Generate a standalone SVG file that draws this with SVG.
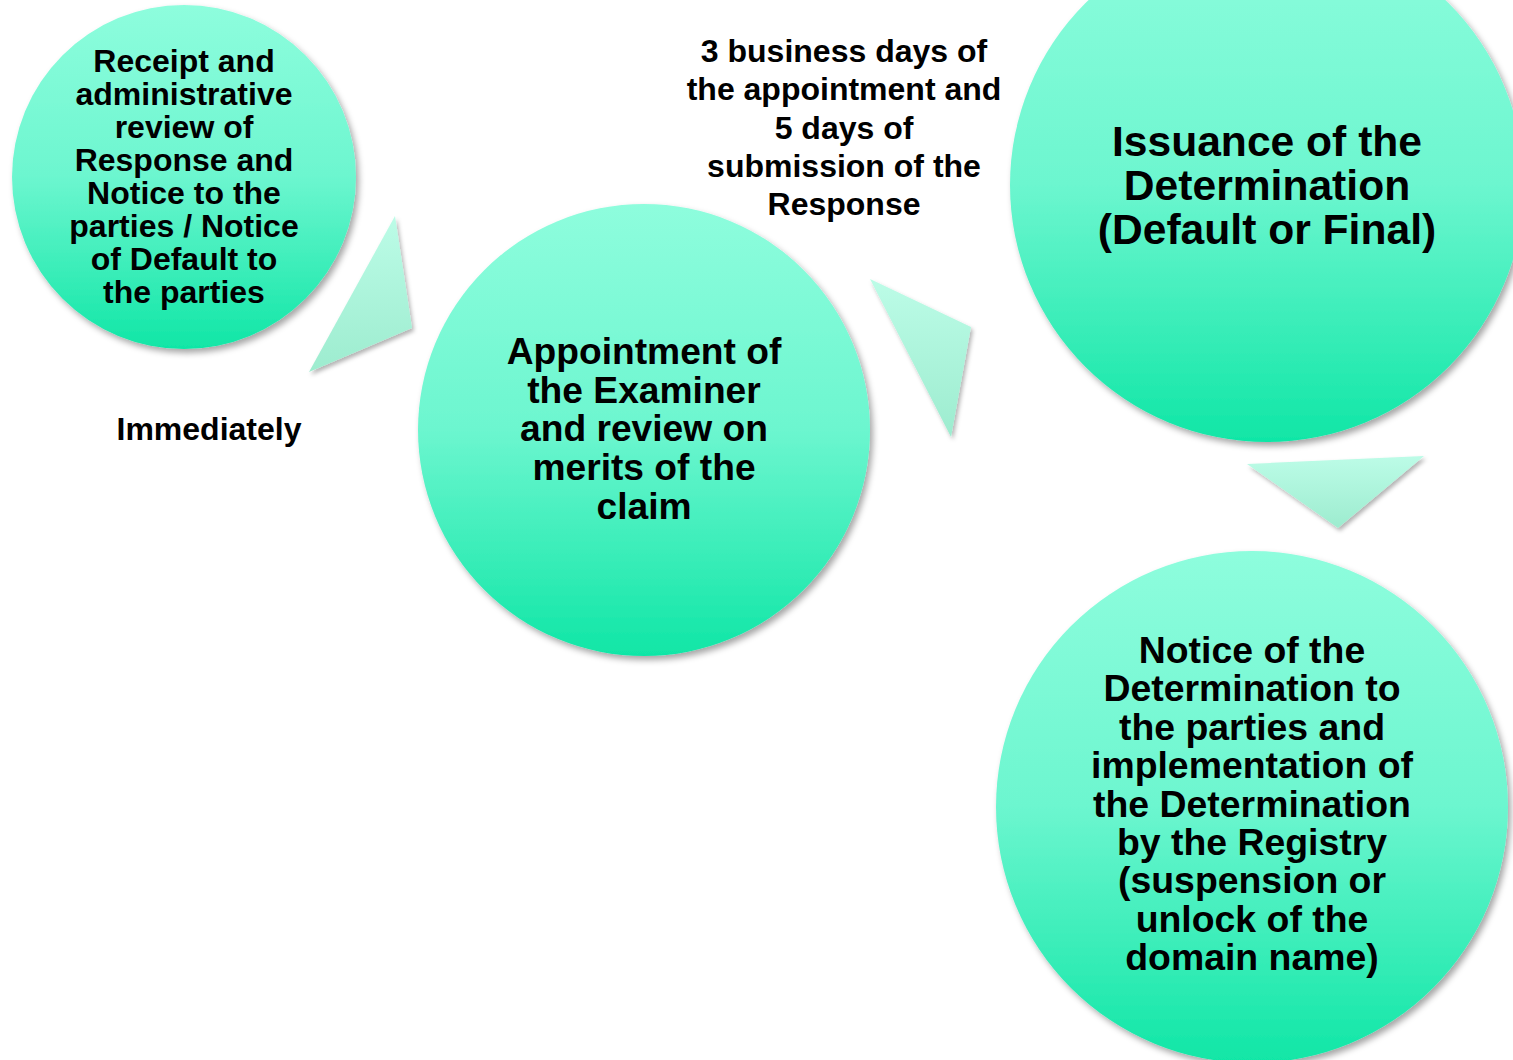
<svg xmlns="http://www.w3.org/2000/svg" width="1513" height="1060" viewBox="0 0 1513 1060">
<style>
text{font-family:"Liberation Sans",Arial,sans-serif;font-weight:bold;fill:#000;text-anchor:middle}
.c{fill:url(#cg);filter:url(#sh)}
.a{fill:url(#ag);filter:url(#sh2)}
</style>
<defs>
<linearGradient id="cg" x1="0" y1="0" x2="0" y2="1">
<stop offset="0" stop-color="#8efddd"/>
<stop offset="0.5" stop-color="#6cf6cf"/>
<stop offset="1" stop-color="#10e6a6"/>
</linearGradient>
<linearGradient id="ag" x1="0" y1="0" x2="0" y2="1">
<stop offset="0" stop-color="#bcfce7"/>
<stop offset="1" stop-color="#9deccf"/>
</linearGradient>
<filter id="sh" x="-10%" y="-10%" width="125%" height="125%">
<feDropShadow dx="3" dy="4" stdDeviation="3" flood-color="#000" flood-opacity="0.35"/>
</filter>
<filter id="sh2" x="-20%" y="-20%" width="150%" height="150%">
<feDropShadow dx="2" dy="3" stdDeviation="2" flood-color="#000" flood-opacity="0.3"/>
</filter>
</defs>
<rect width="1513" height="1060" fill="#fff"/>
<g id="connectors">
<polygon class="a" points="395,216 412,328 309,372"/>
<polygon class="a" points="870,279 971,327 951,437"/>
<polygon class="a" points="1247,464 1424,456 1338,528"/>
</g>
<g id="node1">
<circle class="c" cx="184" cy="177" r="172"/>
<text font-size="32"><tspan x="184" y="72">Receipt and</tspan><tspan x="184" y="105">administrative</tspan><tspan x="184" y="138">review of</tspan><tspan x="184" y="171">Response and</tspan><tspan x="184" y="204">Notice to the</tspan><tspan x="184" y="237">parties / Notice</tspan><tspan x="184" y="270">of Default to</tspan><tspan x="184" y="303">the parties</tspan></text>
</g>
<g id="label1">
<text font-size="32" x="209" y="440">Immediately</text>
</g>
<g id="node2">
<circle class="c" cx="644" cy="430" r="226"/>
<text font-size="37.2"><tspan x="644" y="364">Appointment of</tspan><tspan x="644" y="403">the Examiner</tspan><tspan x="644" y="441">and review on</tspan><tspan x="644" y="480">merits of the</tspan><tspan x="644" y="519">claim</tspan></text>
</g>
<g id="label2">
<text font-size="32"><tspan x="844" y="62">3 business days of</tspan><tspan x="844" y="100">the appointment and</tspan><tspan x="844" y="139">5 days of</tspan><tspan x="844" y="177">submission of the</tspan><tspan x="844" y="215">Response</tspan></text>
</g>
<g id="node3">
<circle class="c" cx="1267" cy="185" r="257"/>
<text font-size="42.6"><tspan x="1267" y="156">Issuance of the</tspan><tspan x="1267" y="200">Determination</tspan><tspan x="1267" y="244">(Default or Final)</tspan></text>
</g>
<g id="node4">
<circle class="c" cx="1252" cy="807" r="256"/>
<text font-size="37.4"><tspan x="1252" y="663">Notice of the</tspan><tspan x="1252" y="701">Determination to</tspan><tspan x="1252" y="740">the parties and</tspan><tspan x="1252" y="778">implementation of</tspan><tspan x="1252" y="817">the Determination</tspan><tspan x="1252" y="855">by the Registry</tspan><tspan x="1252" y="893">(suspension or</tspan><tspan x="1252" y="932">unlock of the</tspan><tspan x="1252" y="970">domain name)</tspan></text>
</g>
</svg>
